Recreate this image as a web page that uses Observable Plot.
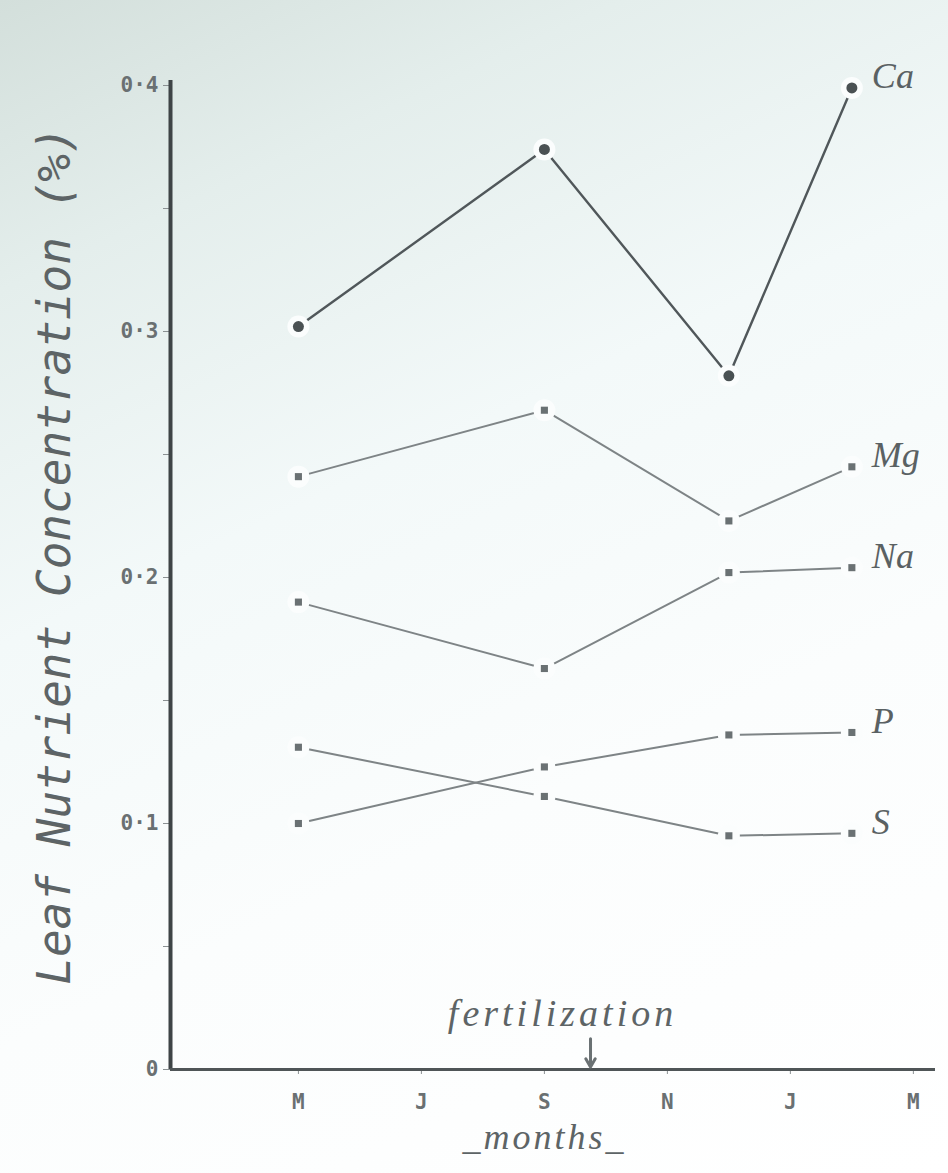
<!DOCTYPE html>
<html>
<head>
<meta charset="utf-8">
<script src="https://cdn.jsdelivr.net/npm/d3@7"></script>
<script src="https://cdn.jsdelivr.net/npm/@observablehq/plot@0.6"></script>
<style>
html, body { margin: 0; padding: 0; }
body {
  width: 948px; height: 1173px; overflow: hidden;
  background: linear-gradient(155deg, #d3dfdb 0%, #e4eeec 18%, #f3f9f9 40%, #fbfdfd 65%, #ffffff 100%);
}
#chart svg { display: block; }
</style>
</head>
<body>
<div id="chart"></div>
<script>
// ---- data ----
const monthTicks = [0, 2, 4, 6, 8, 10];
const monthLabels = ["M", "J", "S", "N", "J", "M"];
const sampleMonths = [0, 4, 7, 9];
const seriesNames = ["Ca", "Mg", "Na", "P", "S"];
const caValues = [0.302, 0.374, 0.282, 0.399];
const mgValues = [0.241, 0.268, 0.223, 0.245];
const naValues = [0.190, 0.163, 0.202, 0.204];
const pValues  = [0.100, 0.123, 0.136, 0.137];
const sValues  = [0.131, 0.111, 0.095, 0.096];
const yMajorTicks = [0, 0.1, 0.2, 0.3, 0.4];
const yMinorTicks = [0.05, 0.15, 0.25, 0.35];
const yTickLabels = ["0", "0·1", "0·2", "0·3", "0·4"];
const fertilizationMonth = 4.75;
const yAxisTitle = "Leaf Nutrient Concentration (%)";
const xAxisTitle = "_months_";
const fertilizationText = "fertilization";

// ---- build table ----
const seriesValues = [caValues, mgValues, naValues, pValues, sValues];
const rows = [];
seriesNames.forEach((name, i) => {
  seriesValues[i].forEach((v, j) => rows.push({series: name, month: sampleMonths[j], value: v}));
});
const lastRows = seriesNames.map(name => rows.filter(r => r.series === name).slice(-1)[0]);
const caRows = rows.filter(r => r.series === "Ca");
const otherRows = rows.filter(r => r.series !== "Ca");

const xMin = -2.08, xMax = 10.36;
const allYTicks = [...yMajorTicks, ...yMinorTicks];

const labelFont = "Liberation Serif";
const labelStyle = {
  x: "month", y: "value", text: "series", dx: 20, dy: -11,
  textAnchor: "start", fontSize: 36, fontStyle: "italic", fontFamily: labelFont, fill: "#5a6163"
};
const chart = Plot.plot({
  width: 948,
  height: 1173,
  marginLeft: 170,
  marginRight: 13,
  marginTop: 85,
  marginBottom: 104,
  style: {background: "transparent", color: "#555b5d", fontFamily: "DejaVu Sans Mono"},
  x: {domain: [xMin, xMax]},
  y: {domain: [0, 0.4]},
  marks: [
    Plot.axisY(allYTicks, {
      tickSize: 7, tickPadding: 5, stroke: "#8a9092",
      tickFormat: d => { const i = yMajorTicks.indexOf(d); return i >= 0 ? yTickLabels[i] : ""; },
      fontSize: 21, fontWeight: "bold", fill: "#6a7072", label: null
    }),
    Plot.axisX(monthTicks, {
      tickSize: 5, tickPadding: 20, stroke: "#8a9092",
      tickFormat: d => monthLabels[monthTicks.indexOf(d)],
      fontSize: 21, fontWeight: "bold", fill: "#6a7072", label: null
    }),
    Plot.ruleX([xMin], {y1: 0, y2: 0.402, stroke: "#3e4446", strokeWidth: 4}),
    Plot.ruleY([0], {x1: xMin, x2: xMax, stroke: "#4f5557", strokeWidth: 3}),
    Plot.line(otherRows, {x: "month", y: "value", z: "series", stroke: "#7e8486", strokeWidth: 2}),
    Plot.line(caRows, {x: "month", y: "value", stroke: "#50575a", strokeWidth: 2.4}),
    Plot.dot(rows, {x: "month", y: "value", r: 11, fill: "#fbfdfd", stroke: "none"}),
    Plot.dot(caRows, {x: "month", y: "value", r: 5.5, fill: "#4a5153", stroke: "none"}),
    Plot.dot(otherRows, {x: "month", y: "value", r: 4, symbol: "square", fill: "#6a7173", stroke: "none"}),
    Plot.text(lastRows, labelStyle),
    Plot.text([yAxisTitle], {
      frameAnchor: "left", dx: -115, dy: -22, rotate: -90, textAnchor: "middle",
      fontSize: 46, fontStyle: "italic", fontFamily: "DejaVu Sans Mono", fill: "#5d6466"
    }),
    Plot.text([fertilizationText], {
      x: fertilizationMonth, y: 0, dx: -28, dy: -56, textAnchor: "middle",
      fontSize: 38, fontStyle: "italic", fontFamily: labelFont, fill: "#5d6466"
    }),
    Plot.arrow([fertilizationMonth], {
      x1: d => d, x2: d => d, y1: 0.0125, y2: 0.001,
      stroke: "#6a7173", strokeWidth: 3, headLength: 14
    }),
    Plot.text([xAxisTitle], {
      x: 4, y: 0, dy: 68, textAnchor: "middle",
      fontSize: 36, fontStyle: "italic", fontFamily: labelFont, fill: "#5d6466"
    })
  ]
});
// letter spacing for the hand-lettered titles
d3.select(chart).selectAll("text").filter(function() {
  return this.textContent === fertilizationText;
}).attr("letter-spacing", 4);
d3.select(chart).selectAll("text").filter(function() {
  return this.textContent === xAxisTitle;
}).attr("letter-spacing", 3);
document.getElementById("chart").appendChild(chart);
</script>
</body>
</html>
